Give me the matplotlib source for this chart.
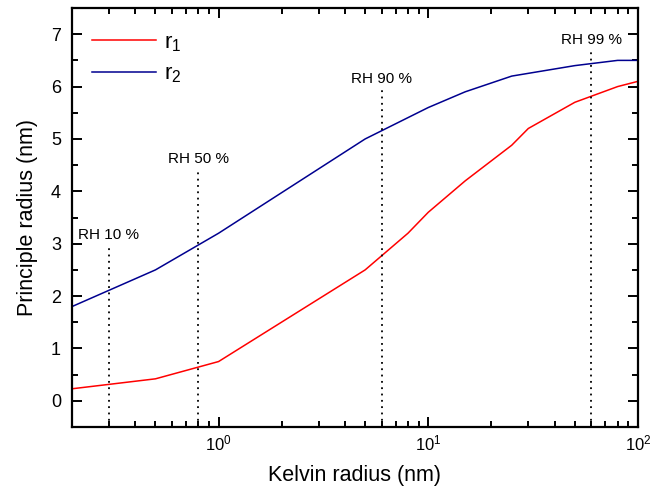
import matplotlib
matplotlib.use("Agg")
import matplotlib.pyplot as plt
from matplotlib.ticker import MultipleLocator, LogLocator, NullFormatter

plt.rcParams['font.family'] = ['Liberation Sans', 'DejaVu Sans']
plt.rcParams['mathtext.fontset'] = 'custom'
plt.rcParams['mathtext.rm'] = 'Liberation Sans'
plt.rcParams['mathtext.it'] = 'Liberation Sans'
plt.rcParams['mathtext.default'] = 'regular'

x_r1 = [0.2, 0.5, 1, 5, 8, 10, 15, 25, 30, 50, 80, 100]
y_r1 = [0.23, 0.42, 0.75, 2.5, 3.2, 3.6, 4.2, 4.88, 5.2, 5.7, 6.0, 6.1]
x_r2 = [0.2, 0.5, 1, 5, 10, 15, 25, 50, 80, 100]
y_r2 = [1.8, 2.5, 3.2, 5.0, 5.6, 5.9, 6.2, 6.4, 6.5, 6.5]
rh_x = [0.3, 0.8, 6, 60]
rh_top = [3.0, 4.45, 5.97, 6.72]
rh_labels = ['RH 10 %', 'RH 50 %', 'RH 90 %', 'RH 99 %']

fig = plt.figure(figsize=(6.5, 4.94), dpi=100)
ax = fig.add_axes([0.1108, 0.1356, 0.8707, 0.8482])

ax.plot(x_r1, y_r1, color='#ff0000', lw=1.1, label='r$_1$')
ax.plot(x_r2, y_r2, color='#00008f', lw=1.1, label='r$_2$')

for xv, top, lab in zip(rh_x, rh_top, rh_labels):
    ax.plot([xv, xv], [-0.5, top], color='black', ls=(0, (1, 2.5)), lw=1.3)
    ax.text(xv, top + 0.04, lab, ha='center', va='bottom', fontsize=11)

ax.set_xscale('log')
ax.set_xlim(0.2, 100)
ax.set_ylim(-0.5, 7.5)
ax.yaxis.set_major_locator(MultipleLocator(1))
ax.yaxis.set_minor_locator(MultipleLocator(0.5))
ax.xaxis.set_minor_locator(LogLocator(base=10, subs=range(2, 10)))
ax.xaxis.set_minor_formatter(NullFormatter())

ax.tick_params(which='both', direction='in', top=True, right=True, width=1.4)
ax.tick_params(which='major', length=7)
ax.tick_params(axis='x', which='major', pad=5, labelsize=12)
ax.tick_params(axis='y', which='major', pad=8, labelsize=13)
ax.tick_params(which='minor', length=4)
for s in ax.spines.values():
    s.set_linewidth(1.6)

ax.set_xlabel('Kelvin radius (nm)', fontsize=15.5, labelpad=8)
ax.set_ylabel('Principle radius (nm)', fontsize=15.5, labelpad=9)

ax.legend(loc='upper left', bbox_to_anchor=(0.0, 0.99), frameon=False,
          fontsize=16, handlelength=2.9, labelspacing=0.45, handletextpad=0.35)

fig.savefig('out.png', dpi=100)
